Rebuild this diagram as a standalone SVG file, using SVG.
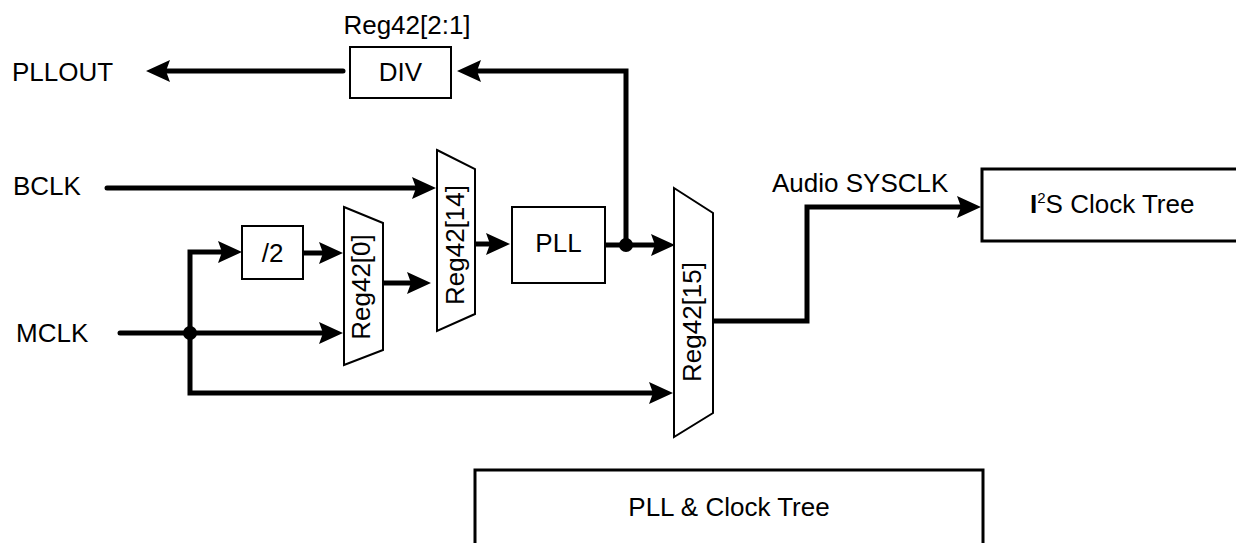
<svg xmlns="http://www.w3.org/2000/svg" width="1236" height="543" viewBox="0 0 1236 543">
<style>
text{font-family:"Liberation Sans",Arial,sans-serif;font-size:26px;fill:#000}
.box{fill:#fff;stroke:#000;stroke-width:2}
.big{fill:#fff;stroke:#000;stroke-width:3}
.wire{fill:none;stroke:#000;stroke-width:5;stroke-linecap:round;stroke-linejoin:miter}
.arr{marker-end:url(#ah)}
.c{text-anchor:middle}
</style>
<defs>
<marker id="ah" markerUnits="userSpaceOnUse" viewBox="0 0 24 24" refX="12" refY="12" markerWidth="24" markerHeight="24" orient="auto">
<path d="M0,1 L24,12 L0,23 L4,12 z" fill="#000"/>
</marker>
</defs>
<rect width="1236" height="543" fill="#fff"/>
<g id="connectors">
<path class="wire arr" d="M343,71 H158"/>
<path class="wire arr" d="M626,245 V71 H469"/>
<path class="wire arr" d="M107,188 H424"/>
<path class="wire arr" d="M120,333 H331"/>
<path class="wire arr" d="M190,333 V252 H230"/>
<path class="wire arr" d="M190,333 V393 H661"/>
<path class="wire arr" d="M303,253 H331"/>
<path class="wire arr" d="M383,283 H419"/>
<path class="wire arr" d="M474,244 H498"/>
<path class="wire arr" d="M605,245 H663"/>
<path class="wire arr" d="M713,321 H807 V207 H969"/>
<circle cx="190" cy="333" r="7" fill="#000"/>
<circle cx="626" cy="245" r="7" fill="#000"/>
<text x="772" y="192">Audio SYSCLK</text>
</g>
<g id="pllout"><text x="12" y="81">PLLOUT</text></g>
<g id="bclk"><text x="13" y="195">BCLK</text></g>
<g id="mclk"><text x="16" y="342">MCLK</text></g>
<g id="div">
<rect class="box" x="350" y="47" width="101" height="51"/>
<text class="c" x="400.5" y="81">DIV</text>
<text class="c" x="407" y="34">Reg42[2:1]</text>
</g>
<g id="half">
<rect class="box" x="242" y="226" width="61" height="53"/>
<text class="c" x="272.5" y="262">/2</text>
</g>
<g id="reg42_0">
<polygon class="box" points="344,207 383,223 383,350 344,365"/>
<text class="c" transform="translate(370,287) rotate(-90)">Reg42[0]</text>
</g>
<g id="reg42_14">
<polygon class="box" points="437,150 475,169 475,314 437,331"/>
<text class="c" transform="translate(464,245) rotate(-90)">Reg42[14]</text>
</g>
<g id="pll">
<rect class="box" x="512" y="207" width="93" height="76"/>
<text class="c" x="558.5" y="252">PLL</text>
</g>
<g id="reg42_15">
<polygon class="box" points="674,188 713,213 713,413 674,437"/>
<text class="c" transform="translate(701,322) rotate(-90)">Reg42[15]</text>
</g>
<g id="i2s">
<rect class="big" x="982" y="169" width="270" height="72"/>
<text x="1030" y="213"><tspan font-weight="bold">I</tspan><tspan font-size="15" dy="-10">2</tspan><tspan dy="10">S Clock Tree</tspan></text>
</g>
<g id="clocktree">
<rect class="big" x="475" y="470" width="508" height="100"/>
<text class="c" x="729" y="516">PLL &amp; Clock Tree</text>
</g>
</svg>
